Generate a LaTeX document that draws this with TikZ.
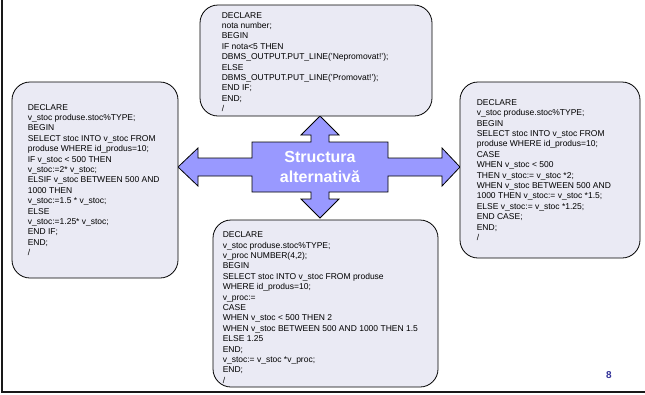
\documentclass[tikz,border=0pt]{standalone}
\usepackage{fontspec}
\setmainfont{Liberation Sans}
\definecolor{boxfill}{RGB}{234,234,244}
\definecolor{arrowfill}{RGB}{153,153,255}
\definecolor{pagecol}{RGB}{51,51,153}
\tikzset{
  codebox/.style={draw=black, line width=0.8bp, fill=boxfill, rounded corners=18bp, inner sep=0pt},
  codetext/.style={anchor=west, align=left, inner sep=0pt, font=\fontsize{8.5bp}{10.4bp}\selectfont},
  crossarrow/.style={draw=black, line width=0.8bp, fill=arrowfill, line join=miter},
  titletext/.style={align=center, text=white, inner sep=0pt, font=\fontsize{16bp}{19.5bp}\selectfont\bfseries},
  pagenum/.style={text=pagecol, inner sep=0pt, font=\fontsize{10bp}{12bp}\selectfont\bfseries}
}
\begin{document}
\begin{tikzpicture}[x=1bp, y=-1bp]
    \useasboundingbox (0,0) rectangle (645,394);

    % 1. slide frame (left and bottom edge)
    \draw[line width=2bp, black!90] (2,0) -- (2,392) -- (645,392);

    % 2. central cross of four arrows
    \draw[crossarrow] (320,116) -- (339,135) -- (329,135) -- (329,142) -- (388,142)
        -- (388,158) -- (442,158) -- (442,148) -- (460,167) -- (442,186) -- (442,176)
        -- (388,176) -- (388,192) -- (329,192) -- (329,199) -- (339,199) -- (320,218)
        -- (301,199) -- (311,199) -- (311,192) -- (252,192) -- (252,176) -- (198,176)
        -- (198,186) -- (178,167) -- (198,148) -- (198,158) -- (252,158) -- (252,142)
        -- (311,142) -- (311,135) -- (301,135) -- cycle;
    \node[titletext] (title) at (320,167) {Structura\\alternativă};

    % 3. the four code boxes
    \node[codebox, minimum width=232bp, minimum height=111bp] (topbox) at (316,60.5) {};
    \node[codebox, minimum width=166bp, minimum height=196bp] (leftbox) at (95,180) {};
    \node[codebox, minimum width=180bp, minimum height=176bp] (rightbox) at (550,170) {};
    \node[codebox, minimum width=225bp, minimum height=167bp] (bottombox) at (325.5,303.5) {};

    % 4. code inside the boxes
    \node[codetext] (toptext) at ([xshift=22bp, yshift=-1.5bp]topbox.west) {DECLARE\\
        nota number;\\
        BEGIN\\
        IF nota<5 THEN\\
        DBMS\_OUTPUT.PUT\_LINE('Nepromovat!');\\
        ELSE\\
        DBMS\_OUTPUT.PUT\_LINE('Promovat!');\\
        END IF;\\
        END;\\
        /};
    \node[codetext] (lefttext) at ([xshift=16bp]leftbox.west) {DECLARE\\
        v\_stoc produse.stoc\%TYPE;\\
        BEGIN\\
        SELECT stoc INTO v\_stoc FROM\\
        produse WHERE id\_produs=10;\\
        IF v\_stoc < 500 THEN\\
        v\_stoc:=2* v\_stoc;\\
        ELSIF v\_stoc BETWEEN 500 AND\\
        1000 THEN\\
        v\_stoc:=1.5 * v\_stoc;\\
        ELSE\\
        v\_stoc:=1.25* v\_stoc;\\
        END IF;\\
        END;\\
        /};
    \node[codetext] (righttext) at ([xshift=17bp]rightbox.west) {DECLARE\\
        v\_stoc produse.stoc\%TYPE;\\
        BEGIN\\
        SELECT stoc INTO v\_stoc FROM\\
        produse WHERE id\_produs=10;\\
        CASE\\
        WHEN v\_stoc < 500\\
        THEN v\_stoc:= v\_stoc *2;\\
        WHEN v\_stoc BETWEEN 500 AND\\
        1000 THEN v\_stoc:= v\_stoc *1.5;\\
        ELSE v\_stoc:= v\_stoc *1.25;\\
        END CASE;\\
        END;\\
        /};
    \node[codetext] (bottomtext) at ([xshift=10bp, yshift=-4bp]bottombox.west) {DECLARE\\
        v\_stoc produse.stoc\%TYPE;\\
        v\_proc NUMBER(4,2);\\
        BEGIN\\
        SELECT stoc INTO v\_stoc FROM produse\\
        WHERE id\_produs=10;\\
        v\_proc:=\\
        CASE\\
        WHEN v\_stoc < 500 THEN 2\\
        WHEN v\_stoc BETWEEN 500 AND 1000 THEN 1.5\\
        ELSE 1.25\\
        END;\\
        v\_stoc:= v\_stoc *v\_proc;\\
        END;\\
        /};

    % 5. slide number
    \node[pagenum] (page) at (609,375) {8};
\end{tikzpicture}
\end{document}
